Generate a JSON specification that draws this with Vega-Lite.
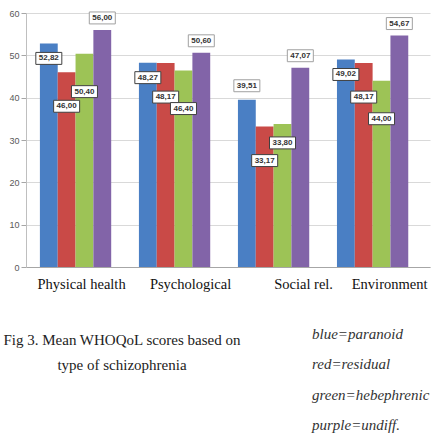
{
  "$schema": "https://vega.github.io/schema/vega-lite/v6.json",
  "width": 404,
  "height": 254,
  "autosize": {"type": "none"},
  "padding": {"left": 26, "top": 13, "right": 4, "bottom": 175},
  "background": "white",
  "config": {
    "locale": {"number": {"decimal": ",", "thousands": ".", "grouping": [3], "currency": ["", " €"]}},
    "view": {"stroke": null},
    "font": "Liberation Sans"
  },
  "title": {
    "text": ["Fig 3. Mean WHOQoL scores based on", "type of schizophrenia"],
    "orient": "bottom",
    "anchor": "start",
    "align": "center",
    "dx": 113,
    "offset": -100,
    "font": "Liberation Serif",
    "fontSize": 15,
    "fontWeight": "normal",
    "color": "#222222",
    "lineHeight": 25
  },
  "data": {
    "values": [
      {"domain": "Physical health", "type": "paranoid", "value": 52.82},
      {"domain": "Physical health", "type": "residual", "value": 46.0},
      {"domain": "Physical health", "type": "hebephrenic", "value": 50.4},
      {"domain": "Physical health", "type": "undiff.", "value": 56.0},
      {"domain": "Psychological", "type": "paranoid", "value": 48.27},
      {"domain": "Psychological", "type": "residual", "value": 48.17},
      {"domain": "Psychological", "type": "hebephrenic", "value": 46.4},
      {"domain": "Psychological", "type": "undiff.", "value": 50.6},
      {"domain": "Social rel.", "type": "paranoid", "value": 39.51},
      {"domain": "Social rel.", "type": "residual", "value": 33.17},
      {"domain": "Social rel.", "type": "hebephrenic", "value": 33.8},
      {"domain": "Social rel.", "type": "undiff.", "value": 47.07},
      {"domain": "Environment", "type": "paranoid", "value": 49.02},
      {"domain": "Environment", "type": "residual", "value": 48.17},
      {"domain": "Environment", "type": "hebephrenic", "value": 44.0},
      {"domain": "Environment", "type": "undiff.", "value": 54.67}
    ]
  },
  "encoding": {
    "x": {
      "field": "domain",
      "type": "nominal",
      "sort": ["Physical health", "Psychological", "Social rel.", "Environment"],
      "scale": {"paddingInner": 0.28, "paddingOuter": 0.18, "align": 0.39},
      "axis": {
        "title": null,
        "labelAngle": 0,
        "labelFont": "Liberation Serif",
        "labelFontSize": 14.5,
        "labelColor": "#111111",
        "ticks": false,
        "labelPadding": 10,
        "labelOffset": {
          "condition": [
            {"test": "datum.label == 'Physical health'", "value": 6},
            {"test": "datum.label == 'Psychological'", "value": 16},
            {"test": "datum.label == 'Social rel.'", "value": 30}
          ],
          "value": 17
        },
        "domainColor": "#a6a6a6"
      }
    },
    "xOffset": {
      "field": "type",
      "type": "nominal",
      "sort": ["paranoid", "residual", "hebephrenic", "undiff."],
      "scale": {"paddingInner": 0, "paddingOuter": 0}
    },
    "y": {
      "field": "value",
      "type": "quantitative",
      "scale": {"domain": [0, 60], "nice": false},
      "axis": {
        "title": null,
        "values": [0, 10, 20, 30, 40, 50, 60],
        "grid": true,
        "gridColor": "#d9d9d9",
        "domainColor": "#bfbfbf",
        "tickColor": "#a6a6a6",
        "tickSize": 5,
        "labelPadding": 2,
        "labelFontSize": 9,
        "labelColor": "#595959"
      }
    }
  },
  "layer": [
    {
      "mark": {"type": "bar"},
      "encoding": {
        "color": {
          "field": "type",
          "type": "nominal",
          "sort": ["paranoid", "residual", "hebephrenic", "undiff."],
          "scale": {"range": ["#4A7FC4", "#C94A47", "#9DC356", "#8264A8"]},
          "legend": {
            "orient": "none",
            "legendX": 271,
            "legendY": 313,
            "title": null,
            "symbolSize": 0,
            "symbolOpacity": 0,
            "symbolStrokeWidth": 0,
            "labelOffset": 0,
            "labelFont": "Liberation Serif",
            "labelFontStyle": "italic",
            "labelFontSize": 15,
            "labelColor": "#333333",
            "rowPadding": 14.5,
            "labelExpr": "datum.label == 'paranoid' ? 'blue=paranoid' : datum.label == 'residual' ? 'red=residual' : datum.label == 'hebephrenic' ? 'green=hebephrenic' : 'purple=undiff.'"
          }
        }
      }
    },
    {
      "transform": [{"filter": "datum.type == 'paranoid' && datum.domain != 'Social rel.'"}],
      "layer": [
        {"mark": {"type": "point", "shape": "M-1,-0.46H1V0.46H-1Z", "size": 676, "fill": "white", "stroke": "#404040", "strokeWidth": 1, "opacity": 1, "fillOpacity": 1, "yOffset": 15}},
        {"mark": {"type": "text", "dy": 15, "fontSize": 8, "fontWeight": "bold", "color": "#333333"}, "encoding": {"text": {"field": "value", "type": "quantitative", "format": ".2f"}}}
      ]
    },
    {
      "transform": [{"filter": "datum.type == 'paranoid' && datum.domain == 'Social rel.'"}],
      "layer": [
        {"mark": {"type": "point", "shape": "M-1,-0.46H1V0.46H-1Z", "size": 676, "fill": "white", "stroke": "#a0a0a0", "strokeWidth": 1, "opacity": 1, "fillOpacity": 1, "yOffset": -14}},
        {"mark": {"type": "text", "dy": -14, "fontSize": 8, "fontWeight": "bold", "color": "#333333"}, "encoding": {"text": {"field": "value", "type": "quantitative", "format": ".2f"}}}
      ]
    },
    {
      "transform": [{"filter": "datum.type == 'residual'"}],
      "layer": [
        {"mark": {"type": "point", "shape": "M-1,-0.46H1V0.46H-1Z", "size": 676, "fill": "white", "stroke": "#404040", "strokeWidth": 1, "opacity": 1, "fillOpacity": 1, "yOffset": 34}},
        {"mark": {"type": "text", "dy": 34, "fontSize": 8, "fontWeight": "bold", "color": "#333333"}, "encoding": {"text": {"field": "value", "type": "quantitative", "format": ".2f"}}}
      ]
    },
    {
      "transform": [{"filter": "datum.type == 'hebephrenic' && datum.domain != 'Social rel.'"}],
      "layer": [
        {"mark": {"type": "point", "shape": "M-1,-0.46H1V0.46H-1Z", "size": 676, "fill": "white", "stroke": "#404040", "strokeWidth": 1, "opacity": 1, "fillOpacity": 1, "yOffset": 38}},
        {"mark": {"type": "text", "dy": 38, "fontSize": 8, "fontWeight": "bold", "color": "#333333"}, "encoding": {"text": {"field": "value", "type": "quantitative", "format": ".2f"}}}
      ]
    },
    {
      "transform": [{"filter": "datum.type == 'hebephrenic' && datum.domain == 'Social rel.'"}],
      "layer": [
        {"mark": {"type": "point", "shape": "M-1,-0.46H1V0.46H-1Z", "size": 676, "fill": "white", "stroke": "#404040", "strokeWidth": 1, "opacity": 1, "fillOpacity": 1, "yOffset": 19}},
        {"mark": {"type": "text", "dy": 19, "fontSize": 8, "fontWeight": "bold", "color": "#333333"}, "encoding": {"text": {"field": "value", "type": "quantitative", "format": ".2f"}}}
      ]
    },
    {
      "transform": [{"filter": "datum.type == 'undiff.'"}],
      "layer": [
        {"mark": {"type": "point", "shape": "M-1,-0.46H1V0.46H-1Z", "size": 676, "fill": "white", "stroke": "#a0a0a0", "strokeWidth": 1, "opacity": 1, "fillOpacity": 1, "yOffset": -12}},
        {"mark": {"type": "text", "dy": -12, "fontSize": 8, "fontWeight": "bold", "color": "#333333"}, "encoding": {"text": {"field": "value", "type": "quantitative", "format": ".2f"}}}
      ]
    }
  ]
}
